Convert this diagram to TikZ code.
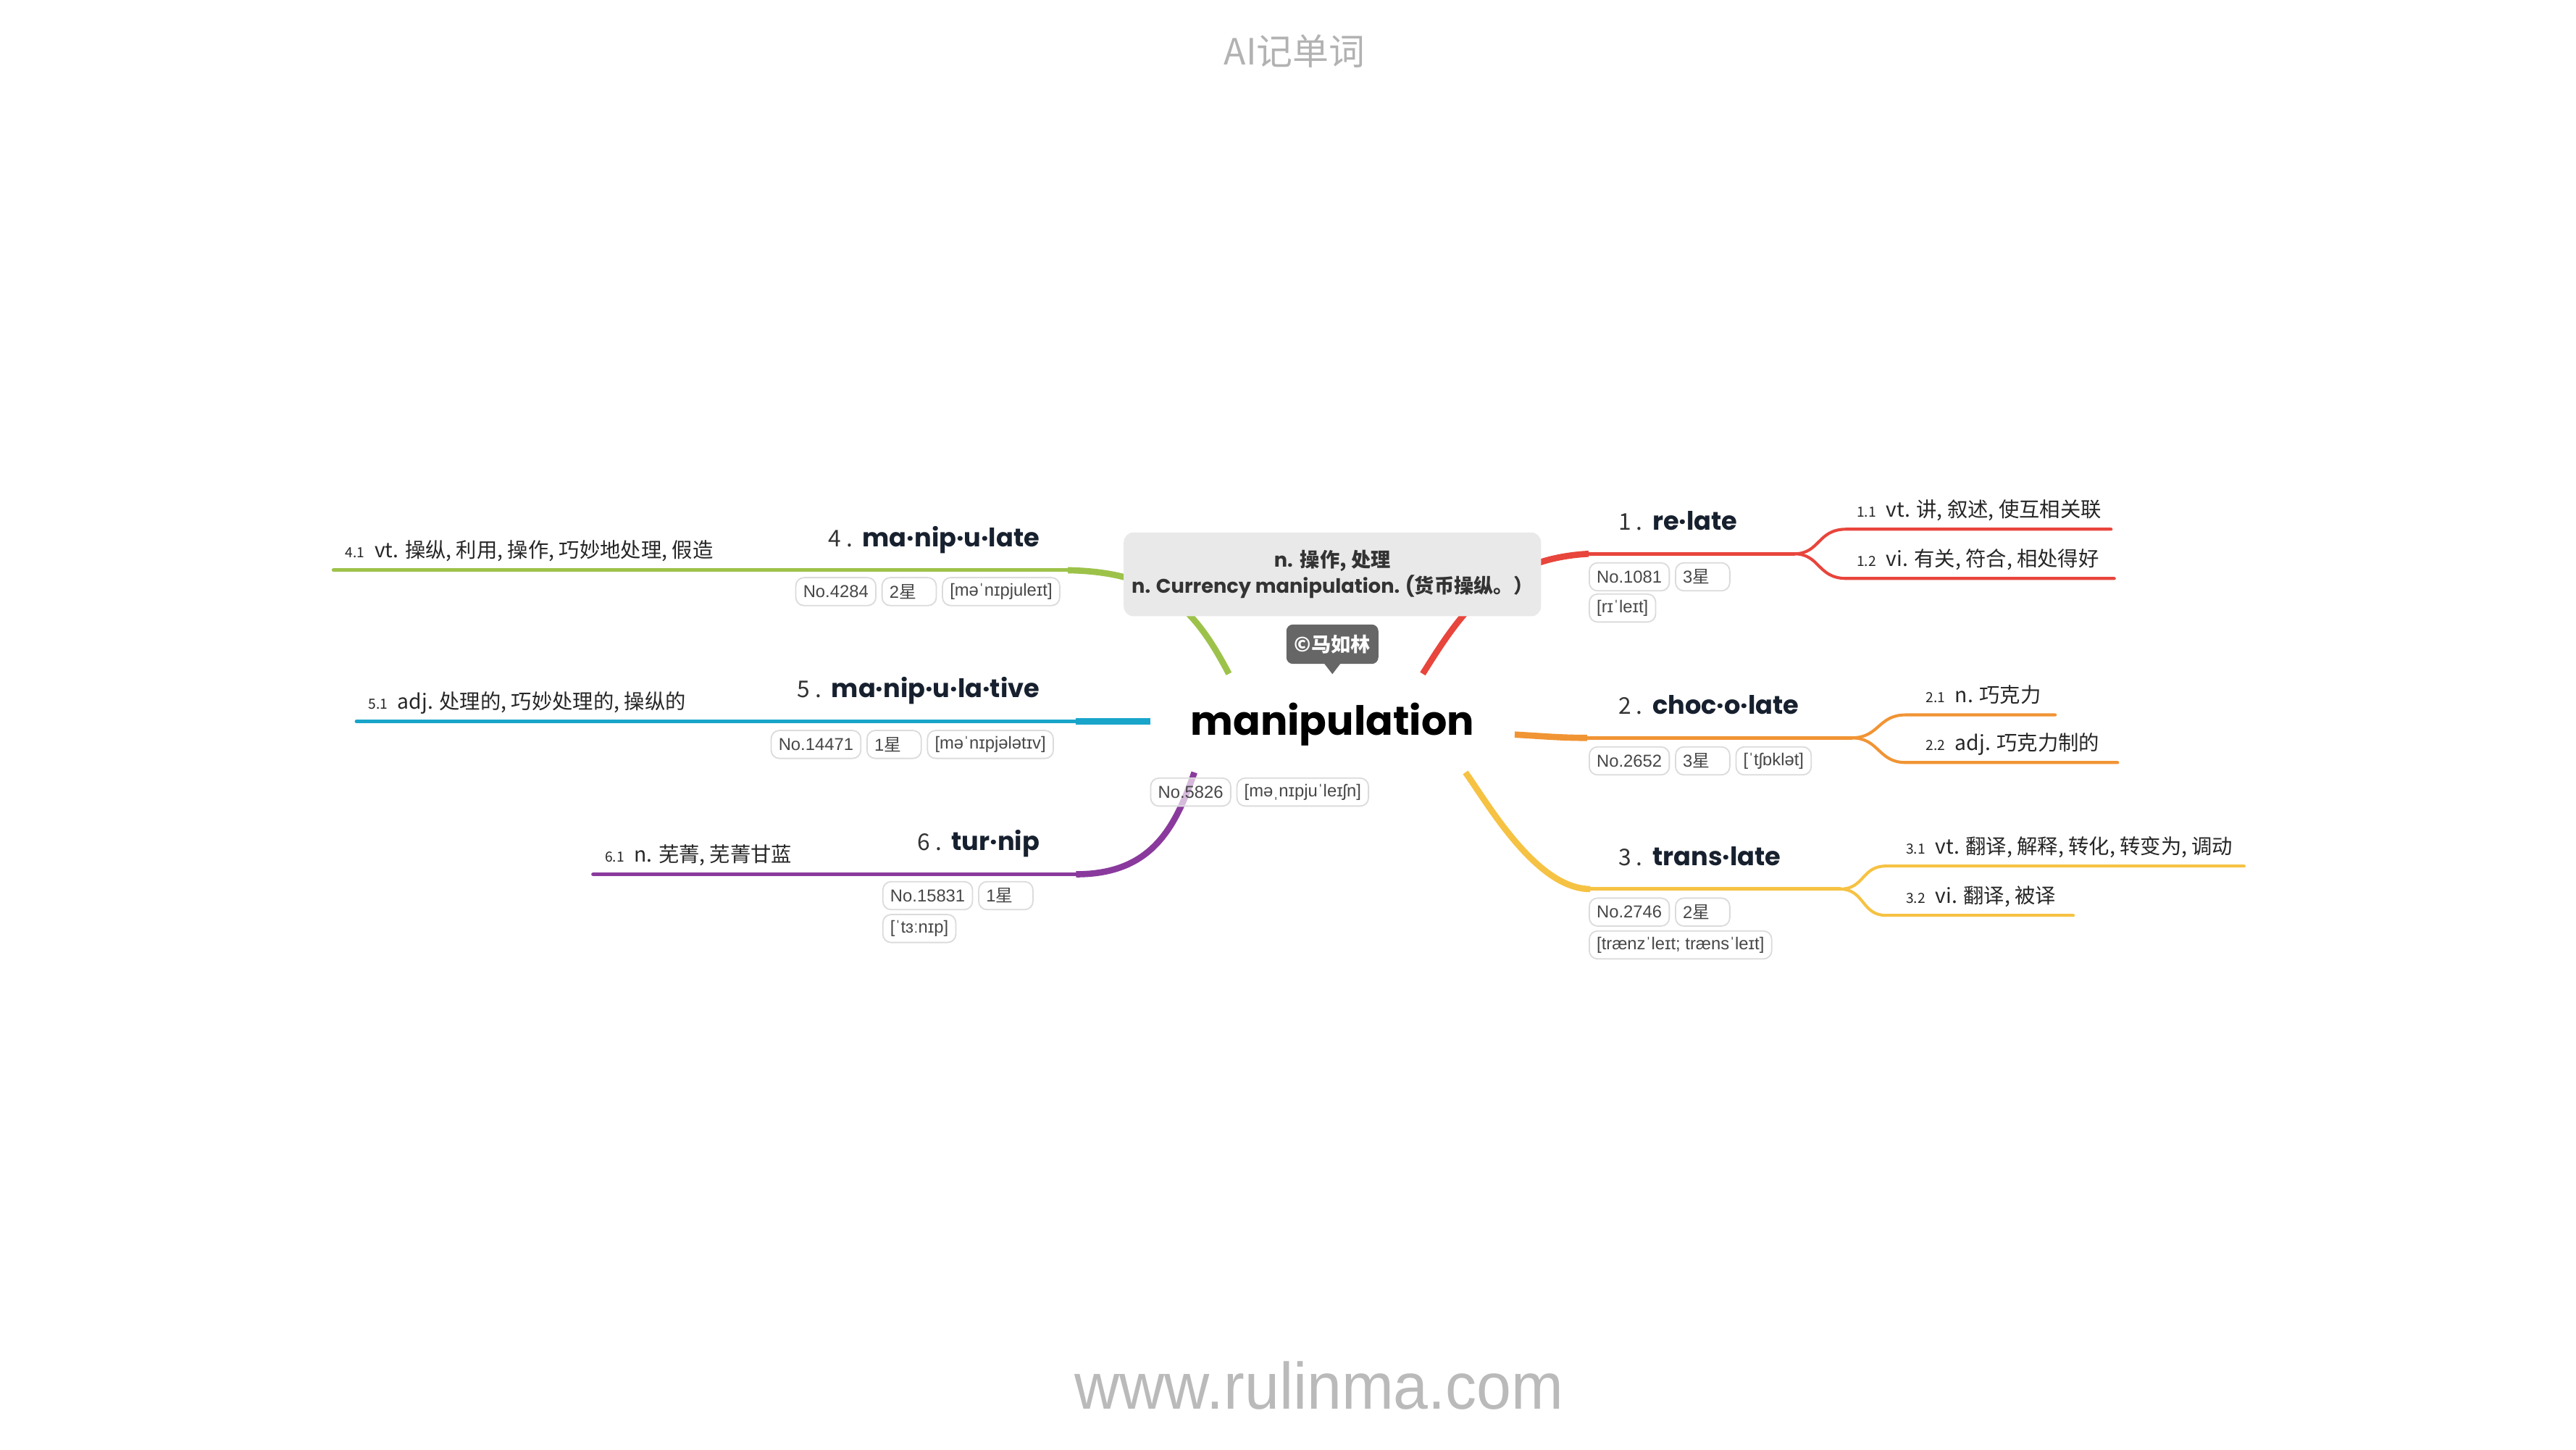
\documentclass[tikz,border=0pt]{standalone}
\usepackage{fontspec}
\setmainfont{Liberation Sans}
\newfontfamily\cjk{Noto Sans CJK SC}
\newfontfamily\pop{Poppins}
\newfontfamily\tagf{Liberation Sans}
\usetikzlibrary{positioning}
\definecolor{cRed}{HTML}{E8453C}
\definecolor{cOra}{HTML}{F19434}
\definecolor{cYel}{HTML}{F6C243}
\definecolor{cGre}{HTML}{9DC24A}
\definecolor{cBlu}{HTML}{19A5CA}
\definecolor{cPur}{HTML}{8A3A9D}
\definecolor{navy}{HTML}{17202E}
\definecolor{boxgray}{HTML}{E9E9E9}
\definecolor{copyg}{HTML}{666666}
\newcommand\dnum[1]{{\fontsize{8.5}{10}\selectfont #1}\hspace{6pt}}
\newcommand\headtxt[2]{{\cjk\fontsize{14}{16}\selectfont\color{black!80}#1\hspace{3pt}.}\hspace{6pt}{\pop\bfseries\fontsize{15.5}{18}\selectfont\color{navy}#2}}
\tikzset{
  tagbox/.style={draw=black!14, line width=0.8pt, fill=white, fill opacity=0.65, text opacity=1,
    rounded corners=5pt, font=\tagf\fontsize{10.5}{11.5}\selectfont, text=black!72,
    inner xsep=4.5pt, inner ysep=0pt, minimum height=17pt, anchor=west},
  startag/.style={tagbox, text width=24pt, align=left},
  trunk/.style={line width=2.2pt, line cap=round},
  stem/.style={line width=3.8pt},
  subline/.style={line width=1.8pt, line cap=round},
  defn/.style={anchor=base west, inner sep=0pt, font=\cjk\fontsize{12.5}{14}\selectfont, text=black!85},
  headr/.style={anchor=base west, inner sep=0pt},
  headl/.style={anchor=base east, inner sep=0pt},
}
\begin{document}
\begin{tikzpicture}[x=1pt,y=-1pt]
\useasboundingbox (0,0) rectangle (1568,882);

% ---- coordinates of branches
\coordinate (r0) at (866,410); \coordinate (r1) at (967,337); \coordinate (r2) at (1092,337);
\coordinate (r11) at (1285,322); \coordinate (r12) at (1287,352);
\coordinate (o0) at (922,447); \coordinate (o1) at (966,449); \coordinate (o2) at (1127,449);
\coordinate (o11) at (1251,435); \coordinate (o12) at (1289,464);
\coordinate (y0) at (892,470); \coordinate (y1) at (968,541); \coordinate (y2) at (1120,541);
\coordinate (y11) at (1366,527); \coordinate (y12) at (1262,557);
\coordinate (g0) at (748,410); \coordinate (g1) at (650,347); \coordinate (g2) at (470,347); \coordinate (g11) at (203,347);
\coordinate (b0) at (700,439); \coordinate (b1) at (655,439); \coordinate (b2) at (470,439); \coordinate (b11) at (217,439);
\coordinate (p0) at (727,470); \coordinate (p1) at (655,532); \coordinate (p2) at (520,532); \coordinate (p11) at (361,532);

% ---- red
\draw[cRed, stem] (r0) .. controls (888,375) and (910,340) .. (r1);
\draw[cRed, trunk] (r1) -- (r2);
\draw[cRed, subline] (r2) .. controls (1108,337) and (1106,322) .. (1124,322) -- (r11);
\draw[cRed, subline] (r2) .. controls (1108,337) and (1106,352) .. (1124,352) -- (r12);
% ---- orange
\draw[cOra, stem] (o0) .. controls (940,448) and (950,449) .. (o1);
\draw[cOra, trunk] (o1) -- (o2);
\draw[cOra, subline] (o2) .. controls (1144,449) and (1143,435) .. (1160,435) -- (o11);
\draw[cOra, subline] (o2) .. controls (1144,449) and (1143,464) .. (1160,464) -- (o12);
% ---- yellow
\draw[cYel, stem] (y0) .. controls (905,488) and (935,541) .. (y1);
\draw[cYel, trunk] (y1) -- (y2);
\draw[cYel, subline] (y2) .. controls (1135,541) and (1133,527) .. (1148,527) -- (y11);
\draw[cYel, subline] (y2) .. controls (1135,541) and (1133,557) .. (1148,557) -- (y12);
% ---- green
\draw[cGre, stem] (g0) .. controls (728,372) and (708,348) .. (g1);
\draw[cGre, trunk] (g1) -- (g2);
\draw[cGre, trunk] (g2) -- (g11);
% ---- blue
\draw[cBlu, stem] (b0) -- (b1);
\draw[cBlu, trunk] (b1) -- (b2);
\draw[cBlu, trunk] (b2) -- (b11);
% ---- purple
\draw[cPur, stem] (p0) .. controls (715,505) and (700,532) .. (p1);
\draw[cPur, trunk] (p1) -- (p2);
\draw[cPur, trunk] (p2) -- (p11);

% ---- title and footer
\node[font=\cjk\fontsize{22}{24}\selectfont, text=black!30] (title) at (788,31) {AI记单词};
\node[font=\fontsize{40}{44}\selectfont, text=black!27] (foot) at (803,843) {\scalebox{0.95}[1]{www.rulinma.com}};

% ---- central topic
\node[font=\pop\bfseries\fontsize{24.5}{28}\selectfont, inner sep=0pt] (c) at (811,441) {manipulation};
\node[fill=boxgray, rounded corners=6pt, minimum width=254pt, minimum height=51pt, inner sep=0pt,
  align=center, text=black!80, font=\fontsize{12}{16}\selectfont] (defbox) at (811,349.5)
  {{\pop\bfseries n.} {\cjk\bfseries 操作, 处理}\\{\pop\bfseries n. Currency manipulation. (}{\cjk\bfseries 货币操纵。）}};
\node[fill=copyg, rounded corners=4pt, minimum width=56pt, minimum height=24pt, inner sep=0pt,
  text=white, font=\cjk\bfseries\fontsize{12}{14}\selectfont] (cp) at (811,392) {©马如林};
\fill[copyg] ([xshift=-5pt,yshift=0.5pt]cp.south) -- ([yshift=-6pt]cp.south) -- ([xshift=5pt,yshift=0.5pt]cp.south) -- cycle;
\node[tagbox] (cno) at (700,482) {No.5826};
\node[tagbox, right=3pt of cno] (cph) {[məˌnɪpjuˈleɪʃn]};

% ---- branch 1
\node[headr] (h1) at (985,322.5) {\headtxt{1}{re·late}};
\node[tagbox] (t1a) at (967,351) {No.1081};
\node[startag, right=3pt of t1a] (t1b) {3\cjk 星};
\node[tagbox] (t1c) at (967,370) {[rɪˈleɪt]};
\node[defn] (d11) at (1130,314.5) {\dnum{1.1}vt. 讲, 叙述, 使互相关联};
\node[defn] (d12) at (1130,344.5) {\dnum{1.2}vi. 有关, 符合, 相处得好};

% ---- branch 2
\node[headr] (h2) at (985,434.5) {\headtxt{2}{choc·o·late}};
\node[tagbox] (t2a) at (967,463) {No.2652};
\node[startag, right=3pt of t2a] (t2b) {3\cjk 星};
\node[tagbox, right=3pt of t2b] (t2c) {[ˈtʃɒklət]};
\node[defn] (d21) at (1172,427.5) {\dnum{2.1}n. 巧克力};
\node[defn] (d22) at (1172,456.5) {\dnum{2.2}adj. 巧克力制的};

% ---- branch 3
\node[headr] (h3) at (985,526.5) {\headtxt{3}{trans·late}};
\node[tagbox] (t3a) at (967,555) {No.2746};
\node[startag, right=3pt of t3a] (t3b) {2\cjk 星};
\node[tagbox] (t3c) at (967,575) {[trænzˈleɪt; trænsˈleɪt]};
\node[defn] (d31) at (1160,519.5) {\dnum{3.1}vt. 翻译, 解释, 转化, 转变为, 调动};
\node[defn] (d32) at (1160,549.5) {\dnum{3.2}vi. 翻译, 被译};

% ---- branch 4
\node[headl] (h4) at (633,332.5) {\headtxt{4}{ma·nip·u·late}};
\node[tagbox] (t4a) at (484,360) {No.4284};
\node[startag, right=3pt of t4a] (t4b) {2\cjk 星};
\node[tagbox, right=3pt of t4b] (t4c) {[məˈnɪpjuleɪt]};
\node[defn] (d41) at (210,339.5) {\dnum{4.1}vt. 操纵, 利用, 操作, 巧妙地处理, 假造};

% ---- branch 5
\node[headl] (h5) at (633,424.5) {\headtxt{5}{ma·nip·u·la·tive}};
\node[tagbox] (t5a) at (469,453) {No.14471};
\node[startag, right=3pt of t5a] (t5b) {1\cjk 星};
\node[tagbox, right=3pt of t5b] (t5c) {[məˈnɪpjələtɪv]};
\node[defn] (d51) at (224,431.5) {\dnum{5.1}adj. 处理的, 巧妙处理的, 操纵的};

% ---- branch 6
\node[headl] (h6) at (633,517.5) {\headtxt{6}{tur·nip}};
\node[tagbox] (t6a) at (537,545) {No.15831};
\node[startag, right=3pt of t6a] (t6b) {1\cjk 星};
\node[tagbox] (t6c) at (537,565) {[ˈtɜːnɪp]};
\node[defn] (d61) at (368,524.5) {\dnum{6.1}n. 芜菁, 芜菁甘蓝};
\end{tikzpicture}
\end{document}
